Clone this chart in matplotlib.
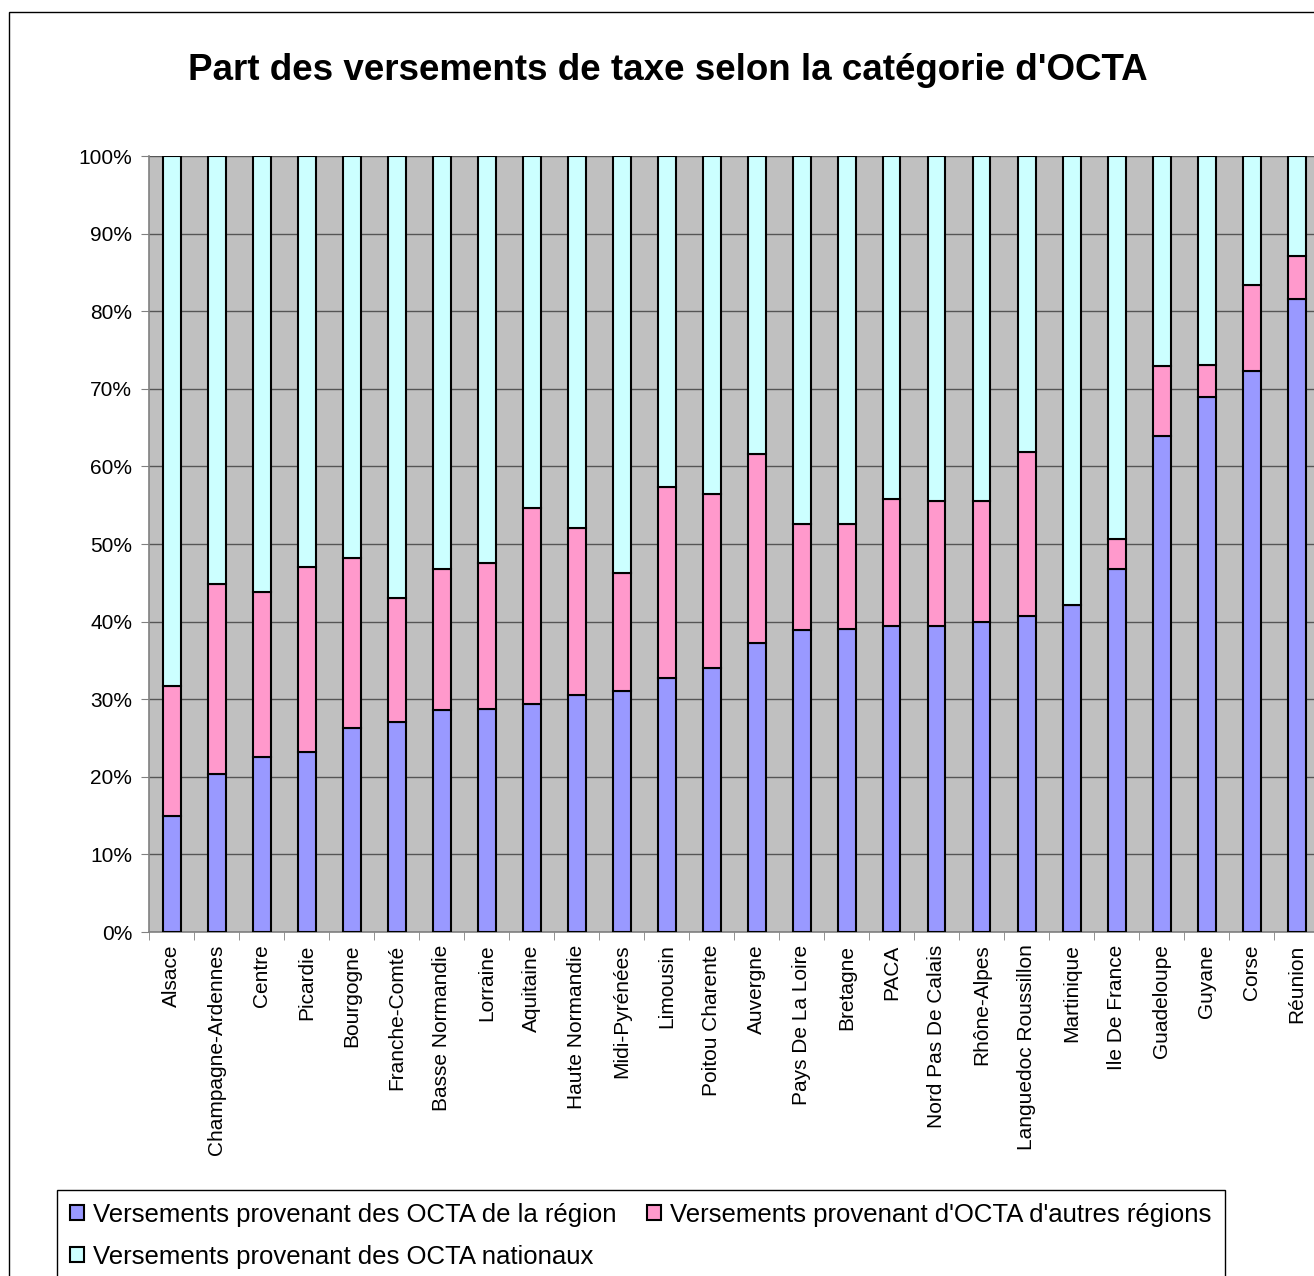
import numpy as np
import matplotlib
matplotlib.use("Agg")
import matplotlib.pyplot as plt
from matplotlib.patches import Rectangle
from matplotlib.ticker import FixedLocator, PercentFormatter

plt.rcParams['font.family'] = ['Liberation Sans', 'DejaVu Sans']

# Data (shares in %)
regions = ["Alsace", "Champagne-Ardennes", "Centre", "Picardie", "Bourgogne",
           "Franche-Comté", "Basse Normandie", "Lorraine", "Aquitaine",
           "Haute Normandie", "Midi-Pyrénées", "Limousin", "Poitou Charente",
           "Auvergne", "Pays De La Loire", "Bretagne", "PACA",
           "Nord Pas De Calais", "Rhône-Alpes", "Languedoc Roussillon",
           "Martinique", "Ile De France", "Guadeloupe", "Guyane", "Corse",
           "Réunion"]
part_region = [14.9, 20.3, 22.6, 23.2, 26.3, 27.0, 28.6, 28.8, 29.4, 30.6,
               31.1, 32.7, 34.0, 37.3, 38.9, 39.1, 39.4, 39.4, 39.9, 40.7,
               42.2, 46.8, 63.9, 69.0, 72.3, 81.6]
part_autres = [16.8, 24.5, 21.2, 23.9, 21.9, 16.0, 18.2, 18.8, 25.2, 21.4,
               15.2, 24.7, 22.4, 24.3, 13.7, 13.5, 16.4, 16.2, 15.7, 21.1,
               0.0, 3.9, 9.0, 4.1, 11.1, 5.5]
part_nationaux = [100 - a - b for a, b in zip(part_region, part_autres)]

labels = ["Versements provenant des OCTA de la région",
          "Versements provenant d'OCTA d'autres régions",
          "Versements provenant des OCTA nationaux"]

C_BLUE = '#9999FF'
C_PINK = '#FF99CC'
C_CYAN = '#CCFFFF'
FS = 15

fig = plt.figure(figsize=(13.14, 12.76), dpi=100)
ax = fig.add_axes([149/1314, 1-932/1276, 1170/1314, 776/1276])
ax.set_facecolor('#C0C0C0')

x = np.arange(len(regions))
w = 0.4
b1 = np.array(part_region)
b2 = np.array(part_autres)
b3 = np.array(part_nationaux)
h1 = ax.bar(x, b1, w, color=C_BLUE, edgecolor='black', linewidth=1.5, zorder=3)
h2 = ax.bar(x, b2, w, bottom=b1, color=C_PINK, edgecolor='black', linewidth=1.5, zorder=3)
h3 = ax.bar(x, b3, w, bottom=b1 + b2, color=C_CYAN, edgecolor='black', linewidth=1.5, zorder=3)

ax.set_xlim(-0.5, len(regions) - 0.5)
ax.set_ylim(0, 100)
ax.set_yticks(np.arange(0, 101, 10))
ax.yaxis.set_major_formatter(PercentFormatter(decimals=0))
ax.grid(axis='y', color='#555555', linewidth=1, zorder=1)

ax.set_xticks(x)
ax.set_xticklabels(regions, rotation=90, fontsize=FS)
ax.xaxis.set_minor_locator(FixedLocator(np.arange(-0.5, len(regions), 1)))
ax.tick_params(axis='x', which='major', length=0, pad=9)
ax.tick_params(axis='x', which='minor', length=6, color='#808080', direction='out')
ax.tick_params(axis='y', length=6, color='#808080', labelsize=FS, pad=6)

for s in ['top', 'right']:
    ax.spines[s].set_visible(False)
for s in ['left', 'bottom']:
    ax.spines[s].set_color('#808080')
    ax.spines[s].set_linewidth(1.2)

fig.text(668/1314, 1-70/1276, "Part des versements de taxe selon la catégorie d'OCTA",
         ha='center', va='center', fontsize=26.5, fontweight='bold')

# legend, row-major order
leg = fig.legend([h1, h3, h2], [labels[0], labels[2], labels[1]], ncol=2,
                 loc='upper left', bbox_to_anchor=(57/1314, 1-1190/1276),
                 fontsize=18.5, frameon=True, fancybox=False, framealpha=1,
                 edgecolor='black', handlelength=0.55, handleheight=0.55,
                 handletextpad=0.35, columnspacing=1.2, borderpad=0.5,
                 borderaxespad=0, labelspacing=0.7)
leg.get_frame().set_linewidth(1)

# outer chart border
fig.add_artist(Rectangle((9/1314, -0.1), 1.2, 1.1 - 12/1276, transform=fig.transFigure,
                         fill=False, edgecolor='black', linewidth=1))

fig.savefig("out.png", dpi=100)
